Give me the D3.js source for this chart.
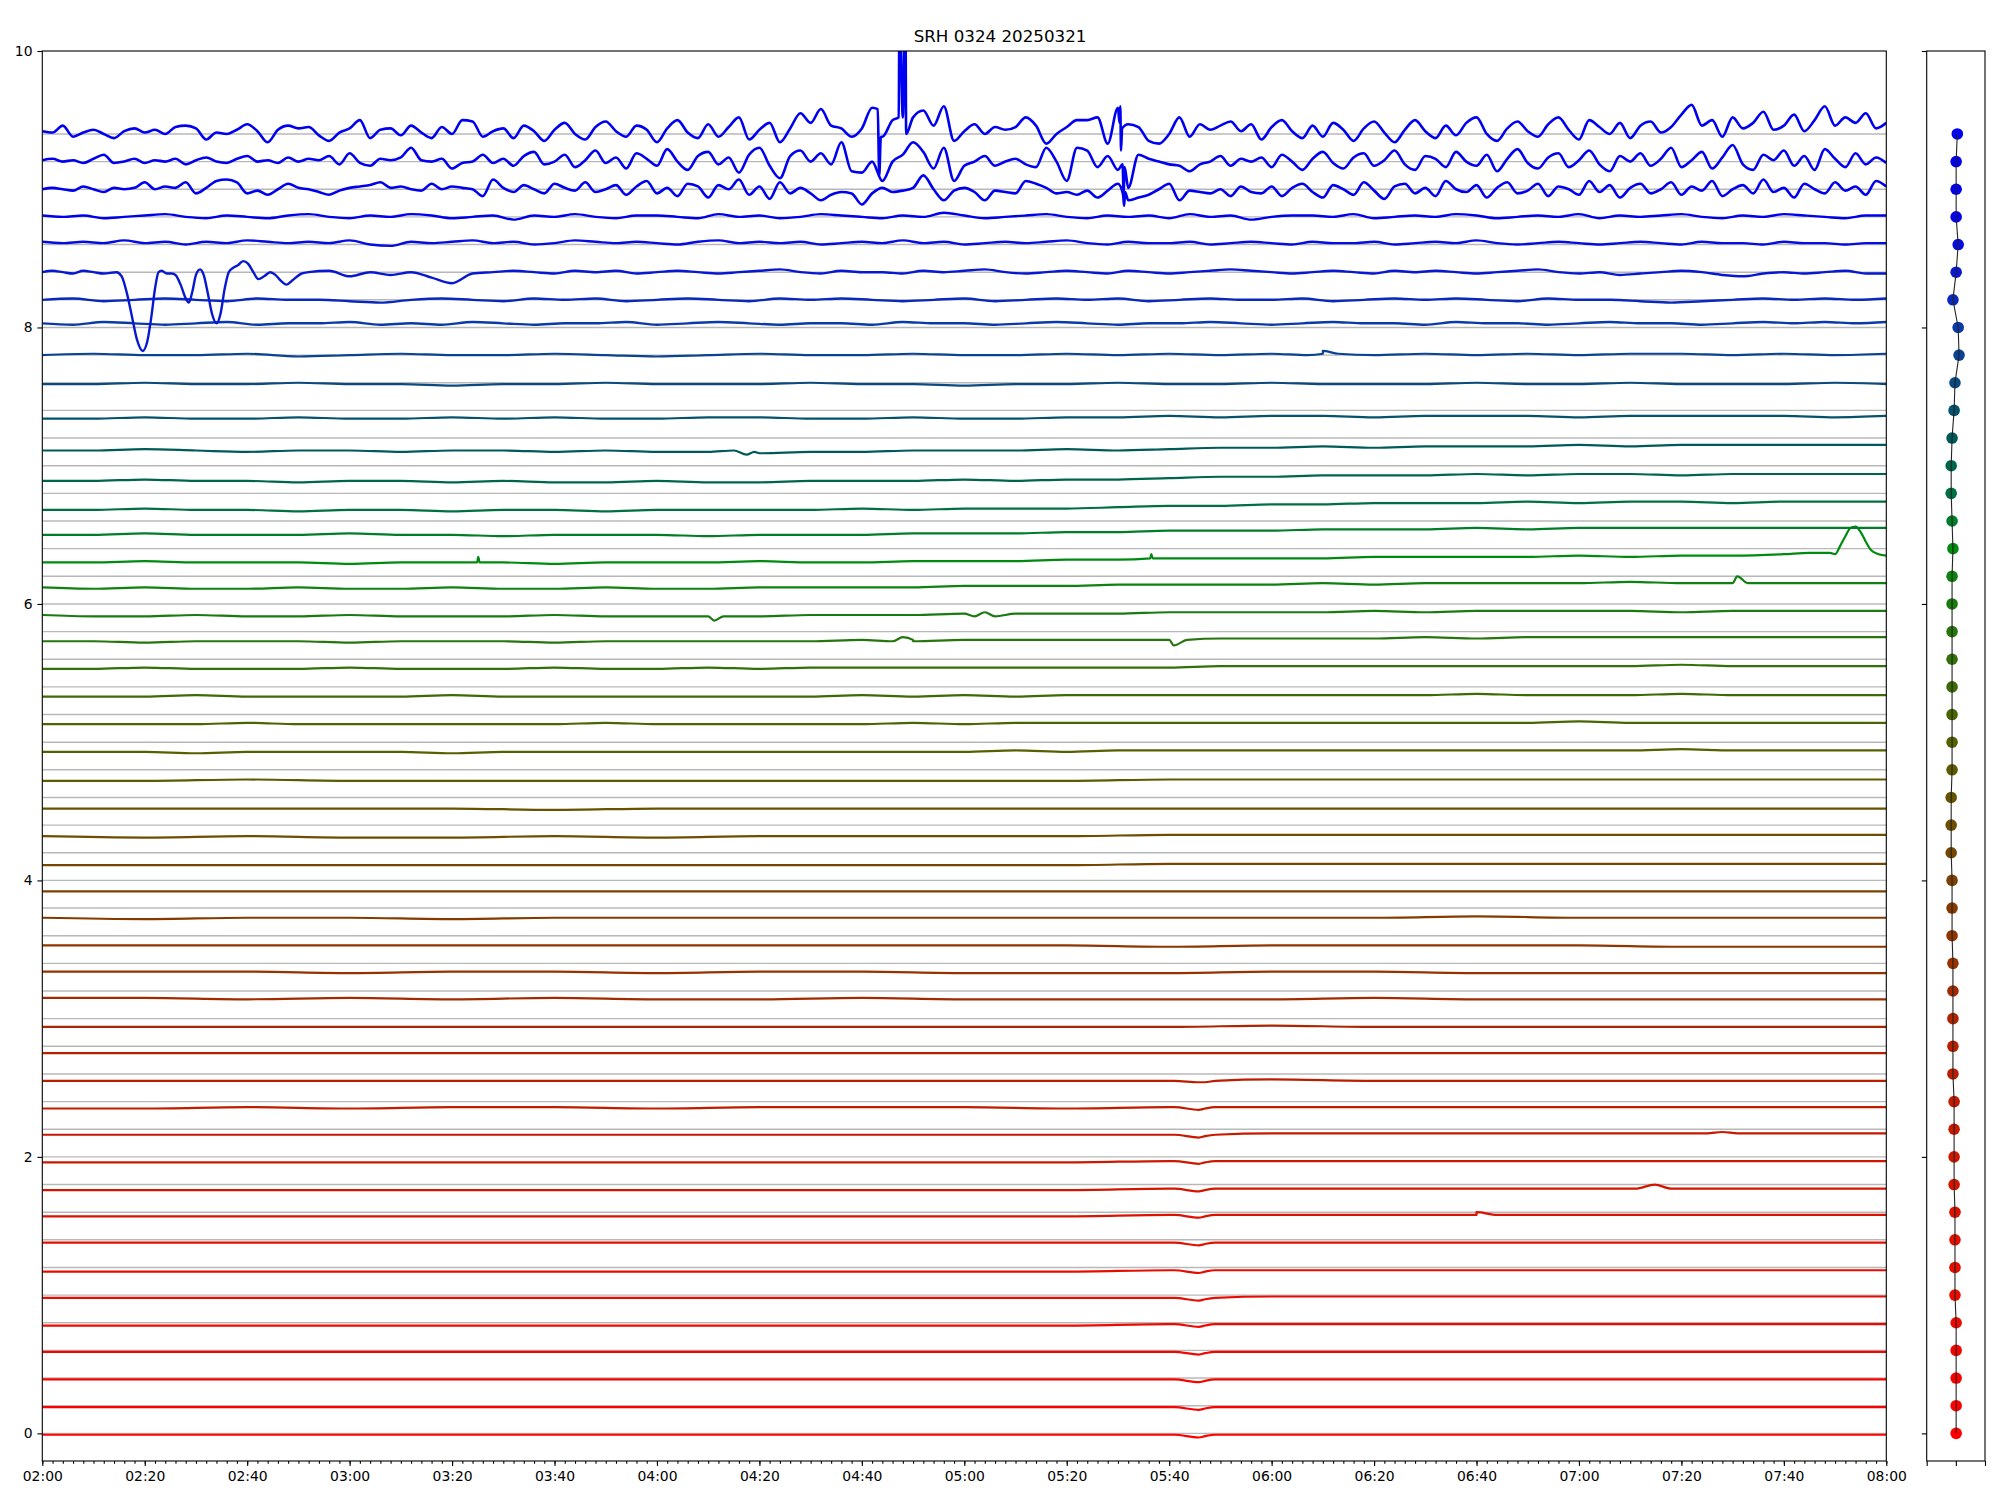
<!DOCTYPE html>
<html><head><meta charset="utf-8">
<script src="https://cdn.jsdelivr.net/npm/d3@7"></script>
<style>body{margin:0;background:#fff} text{font-family:"DejaVu Sans",sans-serif}</style>
</head><body><svg id="c" width="2000" height="1500"></svg>
<script>
// ---------------- DATA ----------------
const title = "SRH 0324 20250321";
const startTime = Date.UTC(2025, 2, 21, 2, 0);
const endTime = Date.UTC(2025, 2, 21, 8, 0);
const yTicks = [0, 2, 4, 6, 8, 10];
const nChannels = 48;
const channelStep = 0.2;

// deviations from channel baseline (i*0.2), in hundredths
// channel 47, 2-min grid from 02:00
const ch47 = [2,1,6,-2,1,3,0,-3,2,4,1,3,0,5,6,4,-4,1,0,3,7,2,-6,3,6,4,5,-1,-5,1,4,10,-3,3,4,-1,6,1,-3,5,0,10,9,-2,2,
 4,-3,6,2,-5,3,8,0,-4,5,9,2,-2,6,3,-6,4,10,1,-3,7,-2,5,12,-4,3,8,-6,4,15,
 8,18,6,4,-2,4,19,-2,10,12,12,17,6,20,-5,2,7,0,5,3,5,12,6,-7,0,5,10,10,12,-7,19,7,5,-5,-7,0,12,-2,7,3,6,9,2,7,
 -4,5,10,2,-3,6,-2,8,3,-5,4,9,1,-6,3,10,2,-3,6,-1,8,12,0,-5,4,9,2,-2,7,12,3,-4,10,5,0,8,-3,6,9,1,5,14,21,6,10,-2,12,4,8,16,3,6,14,2,10,20,6,12,8,15,4,8];
// channel 46, 2-min grid
const ch46 = [1,2,0,1,-1,2,5,-1,0,2,-1,1,0,2,-2,1,3,0,-1,2,4,0,1,-1,3,0,2,1,4,-2,6,-1,-3,2,1,3,10,1,0,2,-5,-1,0,5,-1,
 2,-3,4,7,-2,0,5,-4,1,8,-1,3,-5,6,2,-3,9,0,-6,4,7,-2,3,-8,5,10,-3,-12,4,8,
 0,6,-2,14,-7,-8,0,-14,0,5,14,7,-5,10,-14,-3,0,4,-3,0,2,-2,-4,10,0,-14,10,8,-4,4,-6,-19,5,2,0,-2,-3,-7,-2,0,4,-3,2,0,
 3,-4,5,0,-6,2,7,-1,-5,3,6,-3,1,8,-2,-6,4,2,-4,7,0,-3,5,-7,2,9,-1,-5,3,6,-4,1,8,-2,-7,4,0,6,-3,2,10,-4,1,7,-5,3,12,-2,-6,5,1,8,-3,4,-6,9,2,-4,6,-2,3,-1];
// channel 45, 2-min grid
const ch45 = [0,1,0,-1,2,0,-2,1,0,1,5,0,2,1,5,-3,1,6,7,5,-3,-1,-4,0,4,1,0,-2,-4,-1,1,2,3,5,1,2,0,-1,4,0,2,1,0,-5,7,
 1,-2,3,0,-3,4,1,-1,5,-2,0,3,-4,2,6,-3,1,-5,4,2,-6,3,0,7,-4,2,-7,5,-3,1,
 -3,-8,-4,-2,-3,-11,-3,1,-2,-1,1,10,0,-8,-1,1,-2,-8,-1,-2,-3,6,4,1,-3,-2,-4,-1,-6,-1,4,-8,-6,-4,0,4,-8,-1,-2,-3,0,-5,2,-2,
 -3,2,-5,1,4,-2,-6,3,0,-4,5,-1,-7,2,4,-3,1,-5,6,0,-2,3,-6,1,5,-3,-1,4,-5,2,0,-4,6,-2,3,-6,1,4,-3,0,5,-4,2,-1,6,-5,0,3,-3,7,-2,1,-6,4,0,-3,5,-1,2,-4,6,2];
// channels 44, 43: 4-min grid
const ch44 = [1,0,1,-1,0,1,2,0,-1,1,0,-1,1,2,0,-1,1,0,2,1,-1,0,1,-2,1,0,2,0,-1,1,1,0,-1,2,0,1,-1,0,2,1,0,-1,1,0,3,1,-1,0,1,2,0,-1,1,0,1,-1,2,0,1,-2,0,1,1,0,2,-1,0,1,0,2,1,-1,0,1,0,2,-1,1,0,1,2,0,-1,1,0,2,1,0,-1,1,1];
const ch43 = [2,1,2,1,3,1,2,0,2,1,3,2,1,2,1,3,0,-1,2,1,2,3,1,2,0,1,3,2,1,2,1,0,2,3,1,2,1,2,0,1,2,1,3,1,2,0,1,2,1,2,3,1,0,2,1,1,2,0,1,2,1,0,2,1,1,2,0,1,2,1,3,1,0,1,2,1,0,1,2,1,0,2,1,1,0,2,1,1,0,1,1];
// channel 42: early oscillation as [minute, dev] pairs, then 4-min grid from 02:52
const ch42early = [[0,0],[2,1],[4,0],[6,-1],[8,1],[10,0],[12,-1],[14.5,0],[15.5,-3],[16.5,-15],[17.5,-32],[18.5,-49],[19.6,-57],[20.5,-50],[21.3,-32],[22,-12],[22.7,0],[23.3,1],[24.3,-1],[25.3,-1],[26,-2],[27,-9],[28,-19],[28.6,-22],[29.3,-14],[30,-2],[30.8,2],[31.5,-2],[32.3,-15],[33.2,-31],[34,-37],[34.8,-30],[35.6,-12],[36.4,0],[37.2,3],[38.2,5],[39.2,8],[40.2,6],[41.2,0],[42.2,-5],[43.3,-3],[44.5,0],[45.5,-2],[46.5,-6],[47.7,-9],[48.8,-6],[50.6,-1]];
const ch42 = [0,1,-3,0,-2,0,-4,-8,-1,0,1,0,-1,1,0,1,-1,0,1,0,-1,0,1,2,0,-1,1,0,0,-1,1,0,1,2,0,-1,0,1,0,-1,1,0,-1,0,1,2,1,0,-1,0,1,0,-1,1,0,1,0,-1,0,1,2,0,-1,0,-2,-1,0,1,0,-2,-3,-1,0,-1,0,1,-1,-1];
// channels 41, 40: 6-min grid
const ch41 = [0,1,-1,0,1,0,-1,1,0,0,-1,-2,0,1,0,-1,1,0,1,-1,0,1,0,-1,1,0,1,0,-1,0,1,-1,0,1,0,1,-1,0,1,0,0,1,-1,0,1,0,1,0,-1,1,0,0,-1,-2,-1,0,1,0,1,0,1];
const ch40 = [3,2,4,3,2,3,4,2,3,3,4,2,3,2,4,3,2,3,3,4,2,3,4,3,2,3,3,2,4,3,3,2,3,4,3,2,3,3,4,3,2,3,4,3,3,2,4,3,3,2,3,4,3,3,2,3,4,3,4,3,4];
// channels 39..25: 10-min grid (row 0 = channel 39)
const midLevels = [
 [0,1,0,0,1,-1,0,1,0,0,1,0,-1,0,1,0,0,1,0,0,1,0,1,0,1,1,0,1,0,1,0,1,1,0,1,0,1],
 [-1,-1,0,-1,-1,0,-1,-1,-2,-1,-1,0,-1,-1,-1,0,-1,-1,-2,-1,-1,0,-1,-1,0,-1,-1,-1,0,-1,-1,0,-1,-1,-1,0,-1],
 [-6,-6,-5,-6,-6,-5,-6,-6,-5,-6,-5,-6,-6,-5,-5,-6,-6,-5,-6,-6,-5,-5,-4,-5,-4,-4,-5,-4,-4,-4,-5,-4,-4,-4,-4,-5,-4],
 [-9,-9,-8,-9,-10,-9,-9,-10,-9,-9,-10,-9,-10,-10,-11,-10,-10,-9,-9,-9,-8,-9,-8,-7,-7,-6,-7,-6,-6,-6,-5,-6,-5,-5,-5,-5,-5],
 [-11,-11,-10,-11,-11,-12,-11,-11,-12,-11,-12,-12,-11,-12,-12,-11,-11,-11,-10,-11,-10,-10,-9,-8,-8,-7,-7,-7,-6,-7,-6,-6,-7,-6,-6,-6,-6],
 [-12,-12,-11,-12,-12,-13,-12,-12,-13,-12,-12,-13,-12,-12,-12,-12,-11,-12,-11,-11,-11,-10,-9,-9,-8,-8,-7,-7,-7,-6,-7,-6,-6,-7,-6,-6,-6],
 [-10,-10,-9,-10,-10,-10,-9,-10,-10,-11,-10,-10,-10,-11,-10,-10,-10,-9,-9,-9,-8,-8,-7,-7,-7,-6,-6,-6,-5,-6,-5,-5,-5,-5,-5,-5,-5],
 [-10,-10,-9,-10,-10,-10,-11,-10,-10,-10,-11,-10,-10,-10,-9,-10,-10,-9,-9,-9,-8,-8,-7,-7,-7,-7,-6,-6,-6,-6,-5,-6,-5,-5,-4,-4,-5],
 [-8,-9,-8,-9,-9,-8,-9,-9,-8,-9,-9,-8,-9,-9,-8,-8,-8,-8,-7,-7,-7,-6,-6,-6,-6,-5,-6,-5,-5,-5,-5,-4,-5,-5,-5,-5,-5],
 [-8,-9,-9,-8,-9,-9,-8,-9,-9,-9,-8,-9,-9,-9,-9,-8,-8,-8,-7,-7,-7,-7,-6,-6,-6,-6,-5,-6,-5,-5,-5,-5,-6,-5,-5,-5,-5],
 [-7,-7,-8,-7,-7,-7,-8,-7,-7,-7,-8,-7,-7,-7,-7,-7,-6,-6,-6,-6,-6,-6,-6,-5,-5,-5,-5,-4,-5,-4,-4,-4,-4,-4,-4,-4,-4],
 [-7,-7,-6,-7,-7,-7,-6,-7,-7,-7,-6,-7,-7,-6,-7,-6,-6,-6,-6,-6,-6,-6,-6,-5,-5,-5,-5,-5,-5,-5,-5,-5,-4,-5,-5,-5,-5],
 [-7,-7,-7,-6,-7,-7,-7,-7,-6,-7,-7,-7,-7,-7,-7,-7,-6,-7,-6,-7,-6,-6,-6,-6,-6,-6,-6,-6,-5,-6,-6,-6,-5,-6,-6,-6,-6],
 [-7,-7,-7,-7,-6,-7,-7,-7,-7,-7,-7,-6,-7,-7,-7,-7,-7,-6,-7,-6,-6,-6,-6,-6,-6,-6,-6,-6,-6,-6,-5,-6,-6,-6,-6,-6,-6],
 [-7,-7,-7,-8,-7,-7,-7,-7,-8,-7,-7,-7,-7,-7,-7,-7,-7,-7,-7,-6,-7,-6,-6,-6,-6,-6,-6,-6,-6,-6,-6,-6,-5,-6,-6,-6,-6]
];
// channels 24..0: 20-min grid (row 0 = channel 24)
const lowLevels = [
 [-8,-8,-7,-8,-8,-8,-8,-8,-8,-8,-8,-7,-7,-7,-7,-7,-7,-7,-7],
 [-8,-8,-8,-8,-8,-9,-8,-8,-8,-8,-8,-8,-8,-8,-8,-8,-8,-8,-8],
 [-8,-9,-8,-9,-9,-8,-9,-8,-8,-8,-8,-7,-7,-7,-7,-7,-7,-7,-7],
 [-9,-9,-9,-9,-9,-9,-9,-9,-9,-9,-9,-8,-8,-8,-8,-8,-8,-8,-8],
 [-8,-8,-8,-8,-8,-8,-8,-8,-8,-8,-8,-8,-8,-8,-8,-8,-8,-8,-8],
 [-7,-8,-7,-7,-8,-7,-7,-7,-7,-7,-7,-7,-7,-7,-6,-7,-7,-7,-7],
 [-7,-7,-7,-7,-7,-7,-7,-7,-7,-7,-7,-8,-7,-7,-7,-7,-8,-8,-8],
 [-6,-6,-6,-7,-6,-6,-7,-6,-6,-7,-7,-7,-6,-6,-7,-7,-7,-7,-7],
 [-5,-5,-6,-5,-6,-5,-6,-6,-5,-6,-6,-6,-6,-5,-6,-6,-6,-6,-6],
 [-6,-6,-6,-6,-6,-6,-6,-6,-6,-6,-6,-6,-5,-6,-6,-6,-6,-6,-6],
 [-5,-5,-5,-5,-5,-5,-5,-5,-5,-5,-5,-5,-5,-5,-5,-5,-5,-5,-5],
 [-5,-5,-5,-5,-5,-5,-5,-5,-5,-5,-5,-5,-4,-5,-5,-5,-5,-5,-5],
 [-5,-5,-4,-5,-4,-4,-5,-4,-4,-4,-5,-4,-4,-4,-4,-4,-4,-4,-4],
 [-4,-4,-4,-4,-4,-4,-4,-4,-4,-4,-4,-4,-3,-3,-3,-3,-3,-3,-3],
 [-4,-4,-4,-4,-4,-4,-4,-4,-4,-4,-4,-3,-3,-3,-3,-3,-3,-3,-3],
 [-4,-4,-4,-4,-4,-4,-4,-4,-4,-4,-4,-3,-3,-3,-3,-3,-3,-3,-3],
 [-3,-3,-3,-3,-3,-3,-3,-3,-3,-3,-3,-2,-2,-2,-2,-2,-2,-2,-2],
 [-2,-2,-2,-2,-2,-2,-2,-2,-2,-2,-2,-2,-2,-2,-2,-2,-2,-2,-2],
 [-3,-3,-3,-3,-3,-3,-3,-3,-3,-3,-3,-2,-2,-2,-2,-2,-2,-2,-2],
 [-2,-2,-2,-2,-2,-2,-2,-2,-2,-2,-2,-2,-1,-1,-1,-1,-1,-1,-1],
 [-2,-2,-2,-2,-2,-2,-2,-2,-2,-2,-2,-1,-1,-1,-1,-1,-1,-1,-1],
 [-1,-1,-1,-1,-1,-1,-1,-1,-1,-1,-1,-1,-1,-1,-1,-1,-1,-1,-1],
 [-1,-1,-1,-1,-1,-1,-1,-1,-1,-1,-1,-1,-1,-1,-1,-1,-1,-1,-1],
 [-1,-1,-1,-1,-1,-1,-1,-1,-1,-1,-1,-1,-1,-1,-1,-1,-1,-1,-1],
 [-1,-1,-1,-1,-1,-1,-1,-1,-1,-1,-1,-1,-1,-1,-1,-1,-1,-1,-1]
];
// short events: [channel, minute, dev]
const events = [
 [47,163.1,18],[47,163.4,-30],[47,163.7,-2],
 [47,167.2,12],[47,167.35,100],[47,168.5,100],[47,168.65,0],
 [47,210.3,8],[47,210.45,20],[47,210.6,-12],[47,210.8,4],
 [46,210.9,-2],[46,211.1,-22],[46,211.3,-4],
 [45,211.0,-4],[45,211.2,-12],[45,211.4,-2],
 [39,247,0],[39,250,3],[39,253,1],
 [36,135,-9],[36,137.5,-12],[36,139,-10],
 [32,84.9,-10],[32,85.1,-6],[32,85.4,-10],
 [32,216.3,-7],[32,216.5,-4],[32,216.8,-7],
 [32,345,-3],[32,349,-3],[32,351,2],[32,352,9],[32,353,15],[32,354,16],[32,355,12],[32,356,5],[32,357,-1],[32,358.5,-4],
 [31,328.5,-5],[31,330.9,0],[31,333,-5],
 [30,129.5,-9],[30,131.2,-12],[30,133,-9],[30,182,-9],[30,184,-6],[30,186,-9],
 [29,166,-7],[29,168,-4],[29,170,-7],[29,218.5,-6],[29,220.9,-10],[29,223.5,-6],
 [11,325,-3],[11,328,-2],[11,331,-3],
 [9,311,-3],[9,314.8,0],[9,318,-3],
 [8,276,-2],[8,280,0],[8,284,-2],
 [13,221,-5],[13,225.8,-6],[13,227,-6],[13,229,-5],
 [12,221,-4],[12,225.8,-6],[12,227,-5],[12,229,-4],
 [11,221,-4],[11,225.8,-6],[11,227,-5],[11,229,-4],
 [10,221,-3],[10,225.8,-5],[10,227,-4],[10,229,-3],
 [9,221,-3],[9,225.8,-5],[9,227,-4],[9,229,-3],
 [8,221,-2],[8,225.8,-4],[8,227,-3],[8,229,-2],
 [7,221,-2],[7,225.8,-4],[7,227,-3],[7,229,-2],
 [6,221,-2],[6,225.8,-4],[6,227,-3],[6,229,-2],
 [5,221,-2],[5,225.8,-4],[5,227,-3],[5,229,-2],
 [4,221,-1],[4,225.8,-3],[4,227,-2],[4,229,-1],
 [3,221,-1],[3,225.8,-3],[3,227,-2],[3,229,-1],
 [2,221,-1],[2,225.8,-3],[2,227,-2],[2,229,-1],
 [1,221,-1],[1,225.8,-3],[1,227,-2],[1,229,-1],
 [0,221,-1],[0,225.8,-3],[0,227,-2],[0,229,-1]
];
// right panel: per-channel marker position (channel 0..47)
const markerX = [0.01,0.01,0.01,0.01,0.01,-0.03,-0.03,-0.03,-0.03,-0.06,-0.06,-0.06,-0.06,-0.10,-0.10,-0.10,-0.10,-0.10,
 -0.13,-0.13,-0.13,-0.16,-0.16,-0.16,-0.13,-0.13,-0.13,-0.13,-0.13,-0.13,-0.13,-0.13,-0.10,-0.13,-0.16,-0.16,-0.13,-0.06,
 -0.03,0.11,0.08,-0.10,0.01,0.08,0.01,0.01,0.01,0.05];
// channel colours (channel index -> colour)
const colorStops = [[0,'#ff0000'],[7,'#e01000'],[14,'#b42000'],[20,'#7c4000'],[25,'#566000'],[30,'#1a7a10'],[32,'#008a10'],
 [34,'#007040'],[36,'#005a5a'],[38,'#0a4a80'],[40,'#0a3aa8'],[42,'#0818d0'],[44,'#0000ee'],[47,'#0000f0']];

// ---------------- CHART ----------------
const W = 2000, H = 1500;
const M = {l: 42.3, r: 1886.3, t: 51, b: 1461};
const P = {l: 1926.7, r: 1985};
const svg = d3.select('#c');
svg.append('rect').attr('width', W).attr('height', H).attr('fill', '#fff');

const x = d3.scaleUtc().domain([startTime, endTime]).range([M.l, M.r]);
const y = d3.scaleLinear().domain([-0.2, 10]).range([M.b, M.t]);
const xp = d3.scaleLinear().domain([-1, 1]).range([P.l, P.r]);
const color = d3.scaleLinear().domain(colorStops.map(s => s[0])).range(colorStops.map(s => s[1])).interpolate(d3.interpolateRgb);
const tm = m => new Date(startTime + m * 60000);

// build series
const series = d3.range(nChannels).map(i => ({i, pts: []}));
function addGrid(ch, start, step, vals) { vals.forEach((v, k) => series[ch].pts.push([start + k * step, v])); }
addGrid(47, 0, 2, ch47); addGrid(46, 0, 2, ch46); addGrid(45, 0, 2, ch45);
addGrid(44, 0, 4, ch44); addGrid(43, 0, 4, ch43);
ch42early.forEach(p => series[42].pts.push(p)); addGrid(42, 52, 4, ch42);
addGrid(41, 0, 6, ch41); addGrid(40, 0, 6, ch40);
midLevels.forEach((row, r) => addGrid(39 - r, 0, 10, row));
lowLevels.forEach((row, r) => addGrid(24 - r, 0, 20, row));
events.forEach(e => series[e[0]].pts.push([e[1], e[2]]));
series.forEach(s => s.pts.sort((a, b) => a[0] - b[0]));

const defs = svg.append('defs');
defs.append('clipPath').attr('id', 'clipMain').append('rect')
  .attr('x', M.l).attr('y', M.t).attr('width', M.r - M.l).attr('height', M.b - M.t);

// grid lines at channel baselines
const g = svg.append('g').attr('clip-path', 'url(#clipMain)');
g.selectAll('line.base').data(d3.range(nChannels)).join('line')
  .attr('x1', M.l).attr('x2', M.r)
  .attr('y1', i => y(i * channelStep)).attr('y2', i => y(i * channelStep))
  .attr('stroke', '#b8b8b8').attr('stroke-width', 1.4);

const line = d3.line().curve(d3.curveMonotoneX).x(p => x(tm(p[0]))).y(p => y(p[1]));
g.selectAll('path.tr').data(series).join('path')
  .attr('fill', 'none')
  .attr('stroke', s => color(s.i))
  .attr('stroke-width', s => s.i >= 45 ? 2.6 : (s.i >= 40 ? 2.4 : 2.2))
  .attr('stroke-linejoin', 'round')
  .attr('d', s => line(s.pts.map(p => [p[0], s.i * channelStep + p[1] / 100])));

// axes
const fs = '13.9px';
const xAxis = d3.axisBottom(x).ticks(d3.utcMinute.every(20)).tickFormat(d3.utcFormat('%H:%M'))
  .tickSize(4.9).tickPadding(4.9).tickSizeOuter(0);
const gx = svg.append('g').attr('transform', `translate(0,${M.b})`).call(xAxis);
const xMinor = d3.axisBottom(x).ticks(d3.utcMinute.every(2)).tickFormat('').tickSize(2.8).tickSizeOuter(0);
const gxm = svg.append('g').attr('transform', `translate(0,${M.b})`).call(xMinor);
const yAxis = d3.axisLeft(y).tickValues(yTicks).tickFormat(d3.format('d')).tickSize(4.9).tickPadding(4.9).tickSizeOuter(0);
const gy = svg.append('g').attr('transform', `translate(${M.l},0)`).call(yAxis);
[gx, gxm, gy].forEach(a => {
  a.select('.domain').remove();
  a.selectAll('line').attr('stroke', '#000').attr('stroke-width', 1.1);
  a.selectAll('text').attr('font-size', fs).attr('fill', '#000').attr('font-family', '"DejaVu Sans", sans-serif');
});
svg.append('rect').attr('x', M.l).attr('y', M.t).attr('width', M.r - M.l).attr('height', M.b - M.t)
  .attr('fill', 'none').attr('stroke', '#000').attr('stroke-width', 1.1);

// title
svg.append('text').attr('x', 1000).attr('y', 42).attr('text-anchor', 'middle')
  .attr('font-size', '16.7px').attr('fill', '#000').text(title);

// right panel
const gpy = svg.append('g').attr('transform', `translate(${P.l},0)`)
  .call(d3.axisLeft(y).tickValues(yTicks).tickFormat('').tickSize(4.9).tickSizeOuter(0));
const gpx = svg.append('g').attr('transform', `translate(0,${M.b})`)
  .call(d3.axisBottom(xp).tickValues([-1, 0, 1]).tickFormat('').tickSize(4.9).tickSizeOuter(0));
[gpy, gpx].forEach(a => { a.select('.domain').remove(); a.selectAll('line').attr('stroke', '#000').attr('stroke-width', 1.1); });
const markers = markerX.map((v, i) => ({i, v}));
svg.append('g').selectAll('circle').data(markers).join('circle')
  .attr('cx', d => xp(d.v)).attr('cy', d => y(d.i * channelStep)).attr('r', 5.8)
  .attr('fill', d => color(d.i));
svg.append('path').datum(markers).attr('fill', 'none').attr('stroke', '#222').attr('stroke-width', 1.1)
  .attr('d', d3.line().x(d => xp(d.v)).y(d => y(d.i * channelStep)));
svg.append('rect').attr('x', P.l).attr('y', M.t).attr('width', P.r - P.l).attr('height', M.b - M.t)
  .attr('fill', 'none').attr('stroke', '#000').attr('stroke-width', 1.1);
</script></body></html>
